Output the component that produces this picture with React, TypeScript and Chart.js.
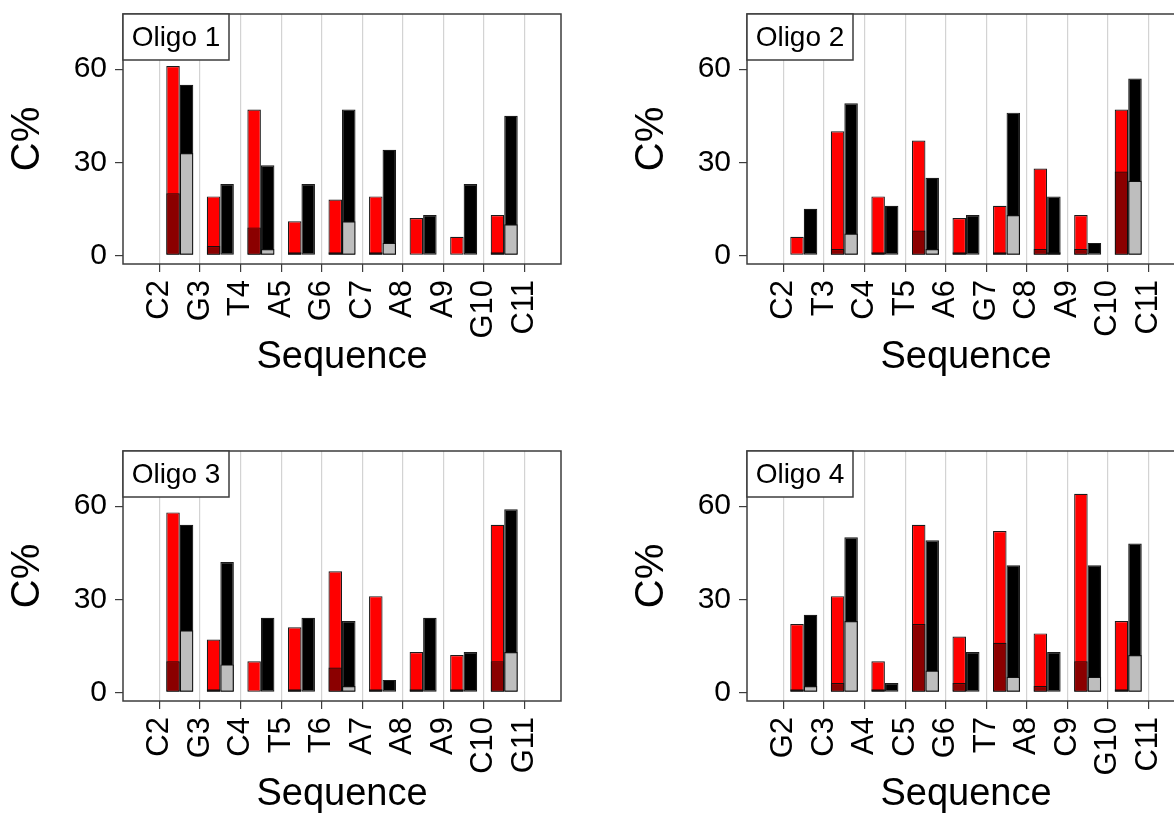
import React, { useEffect, useRef } from 'react';
import { Chart, registerables } from 'chart.js';

Chart.register(...registerables);

const FONT = '"Liberation Sans", Arial, Helvetica, sans-serif';

// ---- Data ----
const yTicks = [0, 30, 60];

const oligo1Labels = ['C2', 'G3', 'T4', 'A5', 'G6', 'C7', 'A8', 'A9', 'G10', 'C11'];
const oligo1Red = [61, 19, 47, 11, 18, 19, 12, 6, 13];
const oligo1DarkRed = [20, 3, 9, 1, 1, 1, 0, 0, 1];
const oligo1Black = [55, 23, 29, 23, 47, 34, 13, 23, 45];
const oligo1Gray = [33, 0, 2, 0, 11, 4, 0, 0, 10];

const oligo2Labels = ['C2', 'T3', 'C4', 'T5', 'A6', 'G7', 'C8', 'A9', 'C10', 'C11'];
const oligo2Red = [6, 40, 19, 37, 12, 16, 28, 13, 47];
const oligo2DarkRed = [0, 2, 1, 8, 1, 1, 2, 2, 27];
const oligo2Black = [15, 49, 16, 25, 13, 46, 19, 4, 57];
const oligo2Gray = [0, 7, 0, 2, 0, 13, 1, 0, 24];

const oligo3Labels = ['C2', 'G3', 'C4', 'T5', 'T6', 'A7', 'A8', 'A9', 'C10', 'G11'];
const oligo3Red = [58, 17, 10, 21, 39, 31, 13, 12, 54];
const oligo3DarkRed = [10, 1, 0, 1, 8, 1, 1, 1, 10];
const oligo3Black = [54, 42, 24, 24, 23, 4, 24, 13, 59];
const oligo3Gray = [20, 9, 0, 0, 2, 0, 0, 0, 13];

const oligo4Labels = ['G2', 'C3', 'A4', 'C5', 'G6', 'T7', 'A8', 'C9', 'G10', 'C11'];
const oligo4Red = [22, 31, 10, 54, 18, 52, 19, 64, 23];
const oligo4DarkRed = [1, 3, 1, 22, 3, 16, 2, 10, 1];
const oligo4Black = [25, 50, 3, 49, 13, 41, 13, 41, 48];
const oligo4Gray = [2, 23, 0, 7, 0, 5, 0, 5, 12];

// ---- Layout constants ----
const PANEL_W = 624;
const PANEL_H = 437;

const framePlugin = {
  id: 'oligoFrame',
  afterDatasetsDraw(chart: any, _args: any, opts: any) {
    const { ctx, chartArea: a } = chart;
    ctx.save();
    ctx.strokeStyle = '#3c3c3c';
    ctx.lineWidth = 1.5;
    ctx.strokeRect(a.left, a.top, a.right - a.left, a.bottom - a.top);
    const bw = 106;
    const bh = 46;
    ctx.fillStyle = '#ffffff';
    ctx.fillRect(a.left, a.top, bw, bh);
    ctx.strokeRect(a.left, a.top, bw, bh);
    ctx.fillStyle = '#000000';
    ctx.font = `28px ${FONT}`;
    ctx.textAlign = 'center';
    ctx.textBaseline = 'middle';
    ctx.fillText(opts.title, a.left + bw / 2, a.top + bh / 2 + 1);
    ctx.restore();
  },
};

type PanelProps = {
  title: string;
  labels: string[];
  red: number[];
  darkRed: number[];
  black: number[];
  gray: number[];
  left: number;
  top: number;
};

function Panel({ title, labels, red, darkRed, black, gray, left, top }: PanelProps) {
  const ref = useRef<HTMLCanvasElement | null>(null);

  useEffect(() => {
    if (!ref.current) return;
    const toPoints = (vals: number[]) => vals.map((v, i) => ({ x: i + 0.5, y: v }));
    const common = {
      borderColor: 'rgba(15,15,15,0.95)',
      borderWidth: 1.2,
      borderSkipped: false,
      barPercentage: 1,
      categoryPercentage: 2 / 3,
    };
    const chart = new Chart(ref.current, {
      type: 'bar',
      data: {
        datasets: [
          { label: 'inner red', data: toPoints(darkRed), backgroundColor: '#8B0000', stack: 'a', ...common },
          { label: 'inner black', data: toPoints(gray), backgroundColor: '#BEBEBE', stack: 'b', ...common },
          { label: 'red', data: toPoints(red), backgroundColor: '#FF0000', stack: 'a', ...common },
          { label: 'black', data: toPoints(black), backgroundColor: '#000000', stack: 'b', ...common },
        ] as any,
      },
      options: {
        animation: false,
        responsive: false,
        devicePixelRatio: 1,
        layout: { padding: { left: 0, top: 14, right: 63, bottom: 0 } },
        plugins: {
          legend: { display: false },
          tooltip: { enabled: false },
          oligoFrame: { title },
        } as any,
        scales: {
          x: {
            type: 'linear',
            min: -0.9,
            max: 9.9,
            offset: false,
            stacked: true,
            afterBuildTicks: (s: any) => {
              s.ticks = labels.map((_, i) => ({ value: i }));
            },
            afterFit: (s: any) => {
              s.height = PANEL_H - 264;
              s.paddingLeft = 0;
              s.paddingRight = 0;
            },
            grid: {
              display: true,
              offset: false,
              drawOnChartArea: true,
              drawTicks: true,
              tickLength: 8,
              color: '#d3d3d3',
              tickColor: '#3c3c3c',
              lineWidth: 1.2,
            },
            border: { display: false },
            ticks: {
              autoSkip: false,
              maxRotation: 90,
              minRotation: 90,
              padding: 8,
              color: '#000',
              font: { family: FONT, size: 31 },
              callback: (_v: any, i: number) => labels[i],
            },
            title: {
              display: true,
              text: 'Sequence',
              color: '#000',
              font: { family: FONT, size: 38 },
              padding: { top: 0, bottom: 57 },
            },
          },
          y: {
            type: 'linear',
            min: -2.8,
            max: 77.8,
            stacked: false,
            afterBuildTicks: (s: any) => {
              s.ticks = yTicks.map((v) => ({ value: v }));
            },
            afterFit: (s: any) => {
              s.width = 123;
              s.paddingTop = 0;
              s.paddingBottom = 0;
            },
            grid: {
              drawOnChartArea: false,
              drawTicks: true,
              tickLength: 8,
              color: '#3c3c3c',
              tickColor: '#3c3c3c',
              lineWidth: 1.2,
            },
            border: { display: false },
            ticks: {
              padding: 8,
              color: '#000',
              font: { family: FONT, size: 30 },
              callback: (v: any) => String(v),
            },
            title: {
              display: true,
              text: 'C%',
              color: '#000',
              font: { family: FONT, size: 40 },
              padding: { top: 4, bottom: 0 },
            },
          },
        } as any,
      },
      plugins: [framePlugin],
    });
    return () => chart.destroy();
  }, [title, labels, red, darkRed, black, gray]);

  return (
    <div style={{ position: 'absolute', left, top, width: PANEL_W, height: PANEL_H }}>
      <canvas ref={ref} width={PANEL_W} height={PANEL_H} style={{ width: PANEL_W, height: PANEL_H, display: 'block' }} />
    </div>
  );
}

export default function App() {
  return (
    <div
      style={{
        position: 'fixed',
        left: 0,
        top: 0,
        width: 1174,
        height: 815,
        overflow: 'hidden',
        background: '#ffffff',
      }}
    >
      <Panel title="Oligo 1" labels={oligo1Labels} red={oligo1Red} darkRed={oligo1DarkRed} black={oligo1Black} gray={oligo1Gray} left={0} top={0} />
      <Panel title="Oligo 2" labels={oligo2Labels} red={oligo2Red} darkRed={oligo2DarkRed} black={oligo2Black} gray={oligo2Gray} left={PANEL_W} top={0} />
      <Panel title="Oligo 3" labels={oligo3Labels} red={oligo3Red} darkRed={oligo3DarkRed} black={oligo3Black} gray={oligo3Gray} left={0} top={PANEL_H} />
      <Panel title="Oligo 4" labels={oligo4Labels} red={oligo4Red} darkRed={oligo4DarkRed} black={oligo4Black} gray={oligo4Gray} left={PANEL_W} top={PANEL_H} />
    </div>
  );
}
